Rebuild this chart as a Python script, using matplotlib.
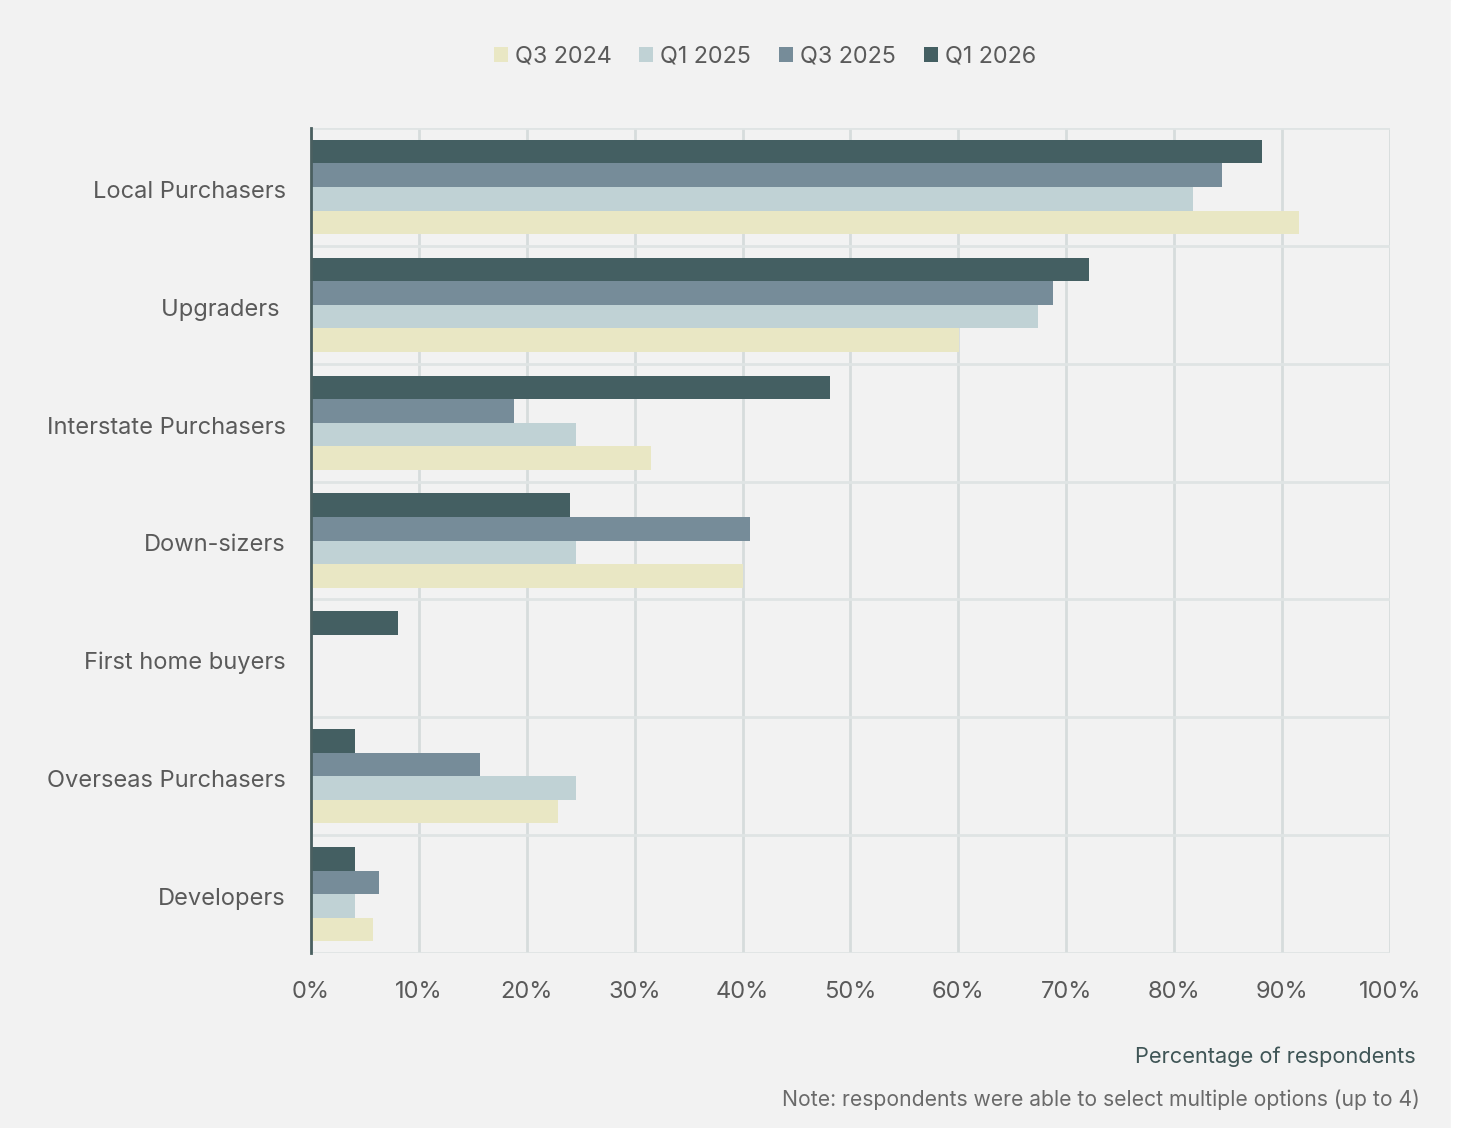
import matplotlib.pyplot as plt
import numpy as np
from matplotlib.ticker import FuncFormatter

plt.rcParams['font.family'] = ['Inter', 'DejaVu Sans']

categories = ['Local Purchasers', 'Upgraders ', 'Interstate Purchasers', 'Down-sizers',
              'First home buyers', 'Overseas Purchasers', 'Developers']
series = ['Q3 2024', 'Q1 2025', 'Q3 2025', 'Q1 2026']
q3_2024 = [91.6, 60.1, 31.5, 40.0, 0.0, 22.9, 5.7]
q1_2025 = [81.7, 67.4, 24.6, 24.6, 0.0, 24.6, 4.1]
q3_2025 = [84.4, 68.8, 18.8, 40.7, 0.0, 15.7, 6.3]
q1_2026 = [88.1, 72.1, 48.1, 24.0, 8.1, 4.1, 4.1]
colors = ['#e9e7c4', '#c0d2d5', '#768c99', '#445f62']

bg = '#f2f2f2'
fig = plt.figure(figsize=(14.58, 11.28), dpi=100, facecolor=bg)
ax = fig.add_axes([311/1458, 1 - 953/1128, (1390-311)/1458, (953-128)/1128])
ax.set_facecolor(bg)

y = np.arange(len(categories))
h = 0.2
values = [q3_2024, q1_2025, q3_2025, q1_2026]
# bottom to top inside a group: Q3 2024 lowest, Q1 2026 top
offsets = [1.5*h, 0.5*h, -0.5*h, -1.5*h]
for vals, c, off, name in zip(values, colors, offsets, series):
    ax.barh(y + off, vals, height=h, color=c, label=name, zorder=3)

ax.set_ylim(len(categories) - 0.5, -0.5)
ax.set_xlim(0, 100)
ax.set_xticks(np.arange(0, 101, 10))
ax.xaxis.set_major_formatter(FuncFormatter(lambda v, p: f'{int(v)}%'))
ax.set_yticks(y + 0.02)
ax.set_yticklabels(categories)
ax.set_yticks(np.arange(-0.5, len(categories), 1), minor=True)

ax.grid(axis='x', which='major', color='#d6dcdc', lw=2, zorder=0)
ax.grid(axis='y', which='minor', color='#dfe4e4', lw=2, zorder=0)
ax.tick_params(which='both', length=0)
ax.tick_params(axis='x', labelsize=17, labelcolor='#5a5a5a', pad=20)
ax.tick_params(axis='y', labelsize=17, labelcolor='#5a5a5a', pad=18)
for s in ['top', 'right', 'bottom']:
    ax.spines[s].set_visible(False)
ax.spines['left'].set_color('#4a5f60')
ax.spines['left'].set_linewidth(2)
ax.spines['left'].set_zorder(4)

leg = fig.legend(loc='center', bbox_to_anchor=(765/1458, 1 - 57/1128), ncol=4, frameon=False,
                 fontsize=16.8, handlelength=0.6, handleheight=0.6, handletextpad=0.3,
                 columnspacing=1.2, labelcolor='#5a5a5a')

fig.text(1416/1458, 1 - 1057/1128, 'Percentage of respondents', ha='right', va='center',
         fontsize=15.7, color='#3f5556')
fig.text(1420/1458, 1 - 1100/1128, 'Note: respondents were able to select multiple options (up to 4)',
         ha='right', va='center', fontsize=15.2, color='#6a6a6a')

fig.patches.append(plt.Rectangle((1451/1458, 0), 7/1458, 1, transform=fig.transFigure,
                                 color='white', zorder=0))

fig.savefig('out.png', dpi=100, facecolor=bg)
